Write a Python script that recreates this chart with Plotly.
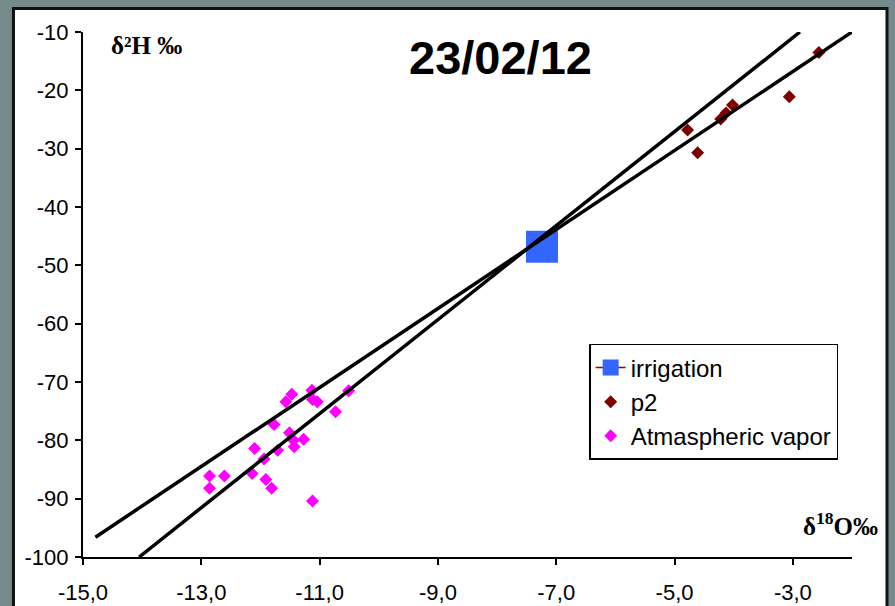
import plotly.graph_objects as go

# Sample data: delta 18O (x) and delta 2H (y), per mil
irrigation_d18O = [-7.24]
irrigation_d2H = [-46.8]

p2_d18O = [-2.56, -3.06, -4.02, -4.13, -4.22, -4.78, -4.61]
p2_d2H = [-13.5, -21.1, -22.5, -23.9, -24.9, -26.8, -30.7]

vapor_d18O = [-11.47, -11.57, -11.13, -11.12, -11.04, -10.51, -10.73, -11.77,
              -11.51, -11.44, -11.27, -11.43, -11.71, -12.10, -11.94, -12.86,
              -12.61, -12.14, -12.86, -11.91, -11.81, -11.12]
vapor_d2H = [-72.1, -73.4, -71.4, -73.0, -73.4, -71.5, -75.1, -77.3,
             -78.7, -80.0, -79.8, -81.1, -81.7, -81.4, -83.2, -86.1,
             -86.1, -85.7, -88.2, -86.7, -88.2, -90.4]

# Two regression lines (end points)
lineA_d18O = [-14.05, -2.88]
lineA_d2H = [-100.0, -10.0]
lineB_d18O = [-14.79, -2.0]
lineB_d2H = [-96.6, -10.0]

x_tickvals = [-15, -13, -11, -9, -7, -5, -3]
x_ticktext = ["-15,0", "-13,0", "-11,0", "-9,0", "-7,0", "-5,0", "-3,0"]
y_tickvals = [-100, -90, -80, -70, -60, -50, -40, -30, -20, -10]
y_ticktext = ["-100", "-90", "-80", "-70", "-60", "-50", "-40", "-30", "-20", "-10"]

SANS = "Arial, Liberation Sans, sans-serif"
SERIF = "Times New Roman, Liberation Serif, serif"

fig = go.Figure()

fig.add_trace(go.Scatter(
    x=irrigation_d18O, y=irrigation_d2H, name="irrigation",
    mode="lines+markers",
    line=dict(color="#990000", width=1.5),
    marker=dict(symbol="square", size=32, color="#3366ff"),
))
fig.add_trace(go.Scatter(
    x=p2_d18O, y=p2_d2H, name="p2", mode="markers",
    marker=dict(symbol="diamond", size=10, color="#800000"),
))
fig.add_trace(go.Scatter(
    x=vapor_d18O, y=vapor_d2H, name="Atmaspheric vapor", mode="markers",
    marker=dict(symbol="diamond", size=10, color="#ff00ff"),
))
for lx, ly in ((lineA_d18O, lineA_d2H), (lineB_d18O, lineB_d2H)):
    fig.add_trace(go.Scatter(
        x=lx, y=ly, mode="lines", showlegend=False, hoverinfo="skip",
        line=dict(color="black", width=3.5),
    ))

axis_common = dict(
    showline=True, linecolor="black", linewidth=2,
    ticks="outside", ticklen=6, tickwidth=1.5, tickcolor="black",
    showgrid=False, zeroline=False, automargin=False,
    tickfont=dict(family=SANS, size=22, color="black"),
)

fig.update_layout(
    width=895, height=606,
    margin=dict(l=83, r=43, t=32, b=49),
    paper_bgcolor="#758a8a",
    plot_bgcolor="white",
    showlegend=True,
    xaxis=dict(range=[-15, -2], tickvals=x_tickvals, ticktext=x_ticktext,
               ticklabelstandoff=9, **axis_common),
    yaxis=dict(range=[-100, -10], tickvals=y_tickvals, ticktext=y_ticktext,
               ticklabelstandoff=2, **axis_common),
    legend=dict(
        x=0.982, y=0.406, xanchor="right", yanchor="top",
        bgcolor="white", bordercolor="black", borderwidth=1.5,
        font=dict(family=SANS, size=24, color="black"),
    ),
    shapes=[dict(
        type="rect", xref="paper", yref="paper", layer="below",
        x0=-0.0904, x1=1.0455, y0=-0.2, y1=1.0448,
        fillcolor="white", line=dict(color="#111111", width=3),
    )],
    annotations=[
        dict(text="<b>23/02/12</b>", xref="paper", yref="paper",
             x=0.5423, y=0.952, xanchor="center", yanchor="middle",
             showarrow=False, font=dict(family=SANS, size=47, color="black")),
        dict(text="<b>δ²H ‰</b>", xref="paper", yref="paper",
             x=0.083, y=0.975, xanchor="center", yanchor="middle",
             showarrow=False, font=dict(family=SERIF, size=25, color="black")),
        dict(text="<b>δ<sup>18</sup>O‰</b>", xref="paper", yref="paper",
             x=1.0364, y=0.062, xanchor="right", yanchor="middle",
             showarrow=False, font=dict(family=SERIF, size=25, color="black")),
    ],
)

fig.write_html("out.html")
